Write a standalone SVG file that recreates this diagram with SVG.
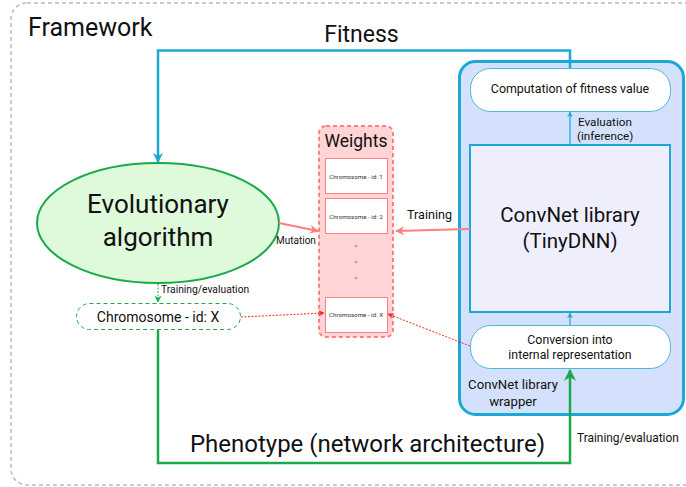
<svg xmlns="http://www.w3.org/2000/svg" width="686" height="487" viewBox="0 0 686 487">
<defs>
<style>
text{font-family:Roboto,"Liberation Sans",sans-serif;fill:#111}
.c{text-anchor:middle}
.w{fill:#fff;stroke:#ff8080;stroke-width:1}
.wt{font-size:6.2px;text-anchor:middle;fill:#333}
</style>
<marker id="ab" viewBox="0 0 10 10" refX="9" refY="5" markerWidth="6" markerHeight="8" orient="auto" markerUnits="userSpaceOnUse"><path d="M0,0 L10,5 L0,10 L3,5 Z" fill="#1ba8d4"/></marker>
<marker id="abL" viewBox="0 0 10 10" refX="9" refY="5" markerWidth="10" markerHeight="11" orient="auto" markerUnits="userSpaceOnUse"><path d="M0,0 L10,5 L0,10 L3,5 Z" fill="#1ba8d4"/></marker>
<marker id="ag" viewBox="0 0 10 10" refX="9" refY="5" markerWidth="12" markerHeight="12" orient="auto" markerUnits="userSpaceOnUse"><path d="M0,0 L10,5 L0,10 L3,5 Z" fill="#1aaa4a"/></marker>
<marker id="ags" viewBox="0 0 10 10" refX="9" refY="5" markerWidth="7" markerHeight="7" orient="auto" markerUnits="userSpaceOnUse"><path d="M0,0 L10,5 L0,10 L3,5 Z" fill="#1aaa4a"/></marker>
<marker id="ar" viewBox="0 0 10 10" refX="9" refY="5" markerWidth="10" markerHeight="9" orient="auto" markerUnits="userSpaceOnUse"><path d="M0,0 L10,5 L0,10 L3,5 Z" fill="#ff7f7f"/></marker>
<marker id="ard" viewBox="0 0 10 10" refX="9" refY="5" markerWidth="7" markerHeight="6" orient="auto" markerUnits="userSpaceOnUse"><path d="M0,0 L10,5 L0,10 L3,5 Z" fill="#ff2020"/></marker>
</defs>
<rect width="686" height="487" fill="#fff"/>
<g id="framework">
<rect x="11" y="3" width="700" height="482" rx="16" fill="none" stroke="#bbb" stroke-width="1.5" stroke-dasharray="4 3"/>
<text x="28" y="36" style="font-size:25px">Framework</text>
</g>
<g id="wrapper">
<rect x="459.5" y="61.5" width="224" height="353" rx="16" fill="#d4e1fc" stroke="#1ba8d4" stroke-width="3"/>
<text x="513" y="389" class="c" style="font-size:13.2px">ConvNet library</text>
<text x="513" y="406" class="c" style="font-size:13.2px">wrapper</text>
</g>
<g id="fitnessComp">
<rect x="470.5" y="68.5" width="200" height="43" rx="20" fill="#fff" stroke="#4bb8d8" stroke-width="1"/>
<text x="570" y="93" class="c" style="font-size:12.4px">Computation of fitness value</text>
</g>
<g id="convnet">
<rect x="470" y="145" width="200" height="167" fill="#eeeefc" stroke="#1ba8d4" stroke-width="2"/>
<text x="570" y="222" class="c" style="font-size:20.5px">ConvNet library</text>
<text x="570" y="248" class="c" style="font-size:20.5px">(TinyDNN)</text>
</g>
<g id="conversion">
<rect x="470.5" y="325.5" width="200" height="43" rx="20" fill="#fff" stroke="#4bb8d8" stroke-width="1"/>
<text x="570" y="344" class="c" style="font-size:12.3px">Conversion into</text>
<text x="570" y="359" class="c" style="font-size:12.3px">internal representation</text>
</g>
<g id="evo">
<ellipse cx="158" cy="223" rx="121" ry="60" fill="#defada" stroke="#1aaa4a" stroke-width="2"/>
<text x="158" y="213" class="c" style="font-size:26px">Evolutionary</text>
<text x="158" y="246" class="c" style="font-size:26px">algorithm</text>
</g>
<g id="chromX">
<rect x="76.5" y="303.5" width="164" height="26" rx="13" fill="#fff" stroke="#1aaa4a" stroke-width="1" stroke-dasharray="4 3"/>
<text x="158" y="321.5" class="c" style="font-size:14px">Chromosome - id: X</text>
</g>
<g id="weights">
<rect x="319" y="126" width="74" height="211" rx="7" fill="#ffd4d4" stroke="#ff8080" stroke-width="2" stroke-dasharray="4 3"/>
<text x="356" y="147" class="c" style="font-size:17.5px">Weights</text>
<rect class="w" x="325.5" y="158.5" width="62" height="35"/>
<text class="wt" x="356" y="178.5">Chromosome - id: 1</text>
<rect class="w" x="325.5" y="198.5" width="62" height="35"/>
<text class="wt" x="356" y="218.5">Chromosome - id: 2</text>
<circle cx="356" cy="246" r="1.3" fill="#ff8080"/>
<circle cx="356" cy="262" r="1.3" fill="#ff8080"/>
<circle cx="356" cy="278" r="1.3" fill="#ff8080"/>
<rect class="w" x="325.5" y="297.5" width="62" height="35"/>
<text class="wt" x="356" y="316.5">Chromosome - id: X</text>
</g>
<g id="connectors" fill="none">
<path d="M570,68 V50.5 H158 V162" stroke="#1ba8d4" stroke-width="2.5" marker-end="url(#abL)"/>
<path d="M570,145 V112" stroke="#1ba8d4" stroke-width="1.2" marker-end="url(#ab)"/>
<path d="M570,325 V313" stroke="#1ba8d4" stroke-width="1.2" marker-end="url(#ab)"/>
<path d="M158,330 V463 H570 V370" stroke="#1aaa4a" stroke-width="2.5" marker-end="url(#ag)"/>
<path d="M158,284 V302" stroke="#1aaa4a" stroke-width="1" stroke-dasharray="2 1.5" marker-end="url(#ags)"/>
<path d="M279,223 L318,231" stroke="#ff7f7f" stroke-width="2" marker-end="url(#ar)"/>
<path d="M470,229 L396,231" stroke="#ff7f7f" stroke-width="2" marker-end="url(#ar)"/>
<path d="M241,317 L324,313" stroke="#ff2020" stroke-width="1" stroke-dasharray="2 1.5" marker-end="url(#ard)"/>
<path d="M470,346 L388,314" stroke="#ff2020" stroke-width="1" stroke-dasharray="2 1.5" marker-end="url(#ard)"/>
</g>
<g id="labels">
<text x="361.5" y="42" class="c" style="font-size:23px">Fitness</text>
<text x="578" y="126" style="font-size:11.7px">Evaluation</text>
<text x="577" y="140" style="font-size:11.7px">(inference)</text>
<text x="407" y="219" style="font-size:12.6px">Training</text>
<text x="276" y="244" style="font-size:10px">Mutation</text>
<text x="161" y="293" style="font-size:10.3px">Training/evaluation</text>
<text x="367.5" y="452" class="c" style="font-size:24px">Phenotype (network architecture)</text>
<text x="577" y="442" style="font-size:11.9px">Training/evaluation</text>
</g>
</svg>
